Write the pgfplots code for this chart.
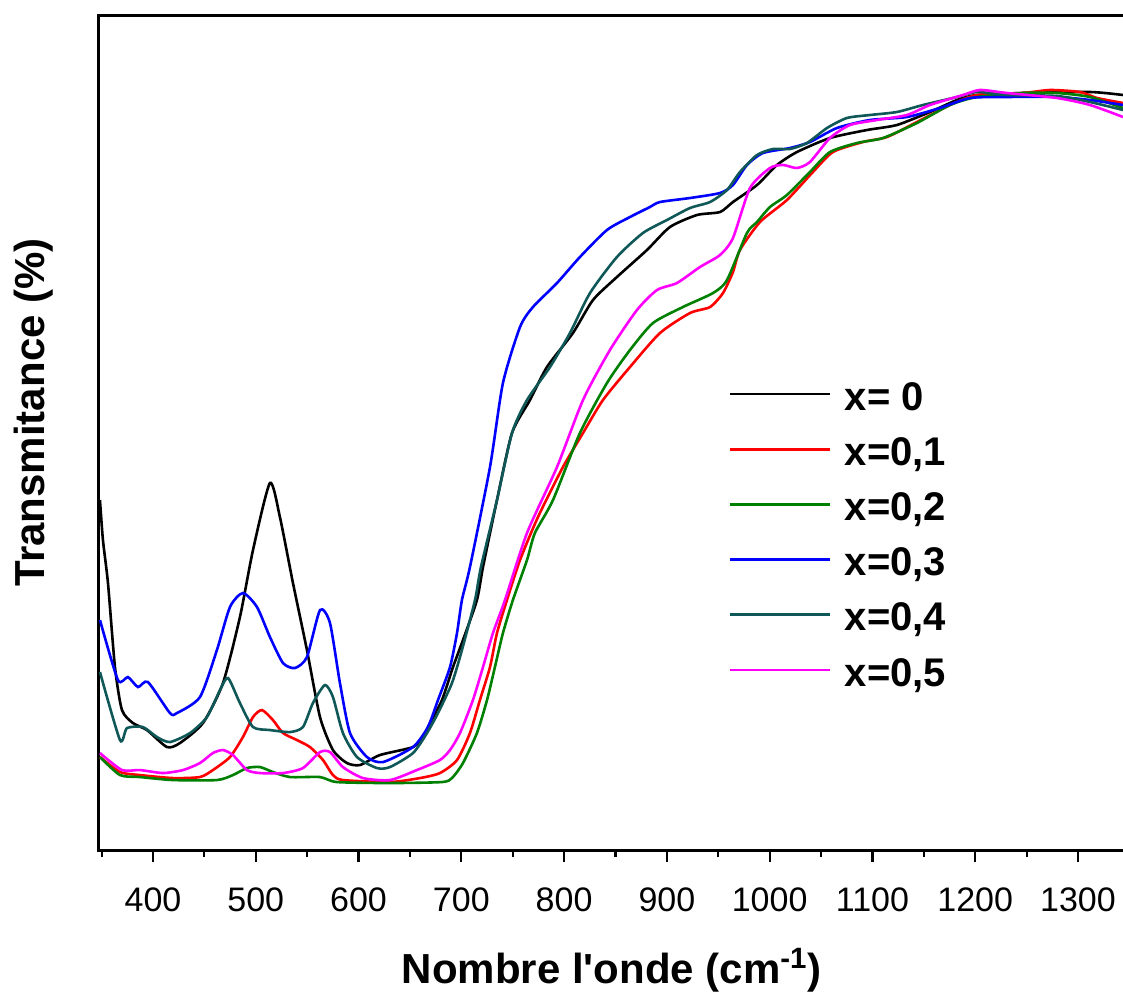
\documentclass[border=0pt]{standalone}
\usepackage{fontspec}
\setmainfont{Liberation Sans}
\usepackage{pgfplots}
\pgfplotsset{compat=1.18}
\definecolor{cteal}{RGB}{16,88,88}
\definecolor{cgreen}{RGB}{0,128,0}
\definecolor{cmag}{RGB}{255,0,255}
\begin{document}
\begin{tikzpicture}
\begin{axis}[
  width=513.6pt, height=417pt, scale only axis,
  xmin=346.5, xmax=1346, ymin=0, ymax=834,
  axis line style={line width=1.5pt},
  xtick={400,500,...,1300},
  minor xtick={350,450,...,1350},
  ytick=\empty,
  xtick pos=bottom, tick align=outside,
  major tick length=6pt, minor tick length=3.5pt,
  every tick/.style={black, line width=1.1pt},
  /pgf/number format/assume math mode=true,
  /pgf/number format/set thousands separator={},
  xticklabel style={font=\fontsize{17}{17}\selectfont, anchor=north, inner sep=0pt, yshift=-12.5pt},
  xlabel={Nombre l\textquotesingle onde (cm\textsuperscript{-1})},
  xlabel style={font=\bfseries\fontsize{21}{22}\selectfont, at={(axis description cs:0.5,-0.1595)}, anchor=base, inner sep=0pt},
  ylabel={Transmitance (\%)},
  ylabel style={font=\bfseries\fontsize{21}{22}\selectfont, at={(axis description cs:-0.0516,0.525)}, anchor=base, inner sep=0pt},
  legend style={at={(axis cs:960.4,468)}, anchor=north west, draw=none, fill=none, inner sep=0pt, outer sep=0pt,
    font=\bfseries\fontsize{20}{20}\selectfont, row sep=9.6pt, column sep=6.5pt,
    nodes={inner sep=0pt, text height=14pt, text depth=4pt}},
  legend cell align=left,
  legend image code/.code={\draw[#1, line width=1.4pt] (0pt,3pt) -- (50pt,3pt);},
  every axis plot/.append style={line width=1.3pt, smooth, tension=0.4},
]
\addplot[black] coordinates {(348.4,350) (351.3,310) (356.2,267) (363.0,183) (369.8,140) (380.5,127) (394.1,120) (413.6,103) (426.2,107) (448.6,127) (468.1,167) (484.6,233) (497.3,300) (513.8,367) (523.5,333) (536.2,267) (549.8,200) (562.5,133) (575.1,100) (588.7,87) (601.4,85) (620.8,95) (653.0,103) (662.7,113) (669.5,127) (681.2,150) (691.9,183) (701.6,210) (715.2,250) (721.1,283) (734.7,350) (749.3,417) (766.8,450) (783.3,483) (808.6,517) (828.1,550) (851.4,573) (880.6,600) (903.0,623) (929.3,635) (951.7,638) (964.3,648) (987.7,665) (1007.1,685) (1026.6,698) (1058.7,712) (1094.7,720) (1123.8,725) (1156.0,738) (1182.3,750) (1201.7,755) (1246.5,757) (1311.7,758) (1343.8,755)};
\addlegendentry{x= 0}
\addplot[red] coordinates {(348.4,93) (367.9,78) (387.3,75) (419.4,72) (445.7,73) (458.3,80) (474.9,93) (487.5,113) (497.3,133) (506.0,140) (516.7,130) (526.5,117) (540.1,110) (552.7,103) (565.4,90) (575.1,75) (584.8,70) (630.6,68) (659.8,72) (679.2,77) (695.8,90) (708.4,117) (718.1,150) (727.9,183) (734.7,217) (744.4,250) (757.1,290) (774.6,333) (798.9,383) (818.4,417) (837.8,450) (864.1,483) (893.3,517) (922.5,537) (942.0,543) (954.6,557) (964.3,578) (971.1,600) (990.6,628) (1016.8,650) (1042.1,678) (1061.6,698) (1090.8,708) (1114.2,713) (1143.3,728) (1175.5,745) (1201.7,755) (1246.5,757) (1272.8,760) (1301.9,758) (1318.5,752) (1343.8,747)};
\addlegendentry{x=0,1}
\addplot[cgreen] coordinates {(348.4,93) (367.9,75) (387.3,73) (419.4,70) (462.2,70) (477.8,75) (491.4,82) (504.1,83) (516.7,78) (533.3,73) (562.5,73) (579.0,68) (630.6,67) (681.2,68) (690.9,72) (701.6,87) (715.2,117) (725.0,150) (732.7,183) (740.5,217) (750.2,250) (763.9,290) (771.6,317) (789.2,350) (815.4,417) (841.7,467) (864.1,500) (886.5,527) (915.6,543) (944.9,557) (958.5,570) (977.9,617) (987.7,628) (1000.3,643) (1016.8,655) (1039.2,678) (1058.7,698) (1085.0,707) (1110.3,712) (1143.3,727) (1175.5,745) (1201.7,753) (1246.5,757) (1279.6,757) (1311.7,753) (1343.8,742)};
\addlegendentry{x=0,2}
\addplot[blue] coordinates {(348.4,230) (365.9,170) (375.6,173) (385.4,163) (395.1,168) (416.5,137) (423.3,137) (445.7,153) (462.2,200) (474.9,243) (487.5,257) (501.2,243) (513.8,213) (526.5,187) (538.1,182) (549.8,193) (562.5,240) (572.2,227) (581.9,167) (591.7,117) (608.2,93) (623.8,88) (653.0,103) (667.5,123) (677.3,150) (689.0,183) (695.8,217) (700.6,250) (708.4,283) (727.9,383) (740.5,467) (757.1,523) (769.7,543) (793.1,567) (815.4,593) (841.7,620) (864.1,633) (883.5,643) (893.3,648) (922.5,652) (951.7,657) (964.3,665) (977.9,685) (993.5,697) (1019.8,702) (1039.2,708) (1065.5,722) (1097.6,730) (1133.6,733) (1165.7,742) (1194.9,752) (1230.9,753) (1279.6,753) (1311.7,750) (1343.8,745)};
\addlegendentry{x=0,3}
\addplot[cteal] coordinates {(348.4,178) (367.9,110) (374.7,122) (390.2,123) (403.9,113) (416.5,108) (436.0,117) (452.5,133) (465.2,160) (473.0,172) (484.6,147) (497.3,123) (513.8,120) (533.3,118) (545.9,123) (555.6,147) (567.3,165) (575.1,153) (584.8,117) (598.5,93) (617.9,82) (630.6,83) (653.0,97) (666.6,117) (677.3,137) (690.9,167) (700.6,200) (713.3,250) (719.1,283) (734.7,350) (749.3,417) (763.9,450) (786.3,483) (805.7,517) (825.2,557) (851.4,593) (876.7,617) (900.1,630) (922.5,642) (942.0,648) (958.5,660) (971.1,678) (987.7,695) (1003.2,701) (1019.8,701) (1036.3,707) (1055.8,722) (1075.2,732) (1097.6,735) (1123.8,738) (1149.2,745) (1182.3,753) (1201.7,758) (1230.9,755) (1279.6,754) (1311.7,748) (1343.8,740)};
\addlegendentry{x=0,4}
\addplot[cmag] coordinates {(348.4,97) (369.8,80) (387.3,80) (409.7,77) (429.2,80) (445.7,87) (458.3,97) (468.1,100) (477.8,95) (491.4,80) (504.1,77) (526.5,77) (545.9,82) (562.5,98) (572.2,98) (584.8,83) (604.3,72) (630.6,70) (656.8,80) (679.2,90) (689.0,100) (698.7,117) (711.3,150) (721.1,183) (730.8,217) (742.5,250) (763.9,317) (793.1,383) (818.4,450) (844.6,500) (870.9,540) (890.4,560) (909.8,567) (932.2,583) (951.7,595) (964.3,612) (980.9,662) (1000.3,682) (1013.0,685) (1026.6,682) (1039.2,688) (1058.7,712) (1078.2,725) (1104.4,730) (1133.6,735) (1156.0,745) (1188.1,755) (1204.6,760) (1230.9,757) (1279.6,752) (1311.7,745) (1343.8,733)};
\addlegendentry{x=0,5}
\coordinate (bl) at (rel axis cs:0,0);
\coordinate (tr) at (rel axis cs:1,1);
\end{axis}
\pgfresetboundingbox
\path[use as bounding box] ([xshift=-49pt,yshift=-73.5pt]bl) rectangle ([xshift=-1.13pt,yshift=8pt]tr);
\end{tikzpicture}
\end{document}
